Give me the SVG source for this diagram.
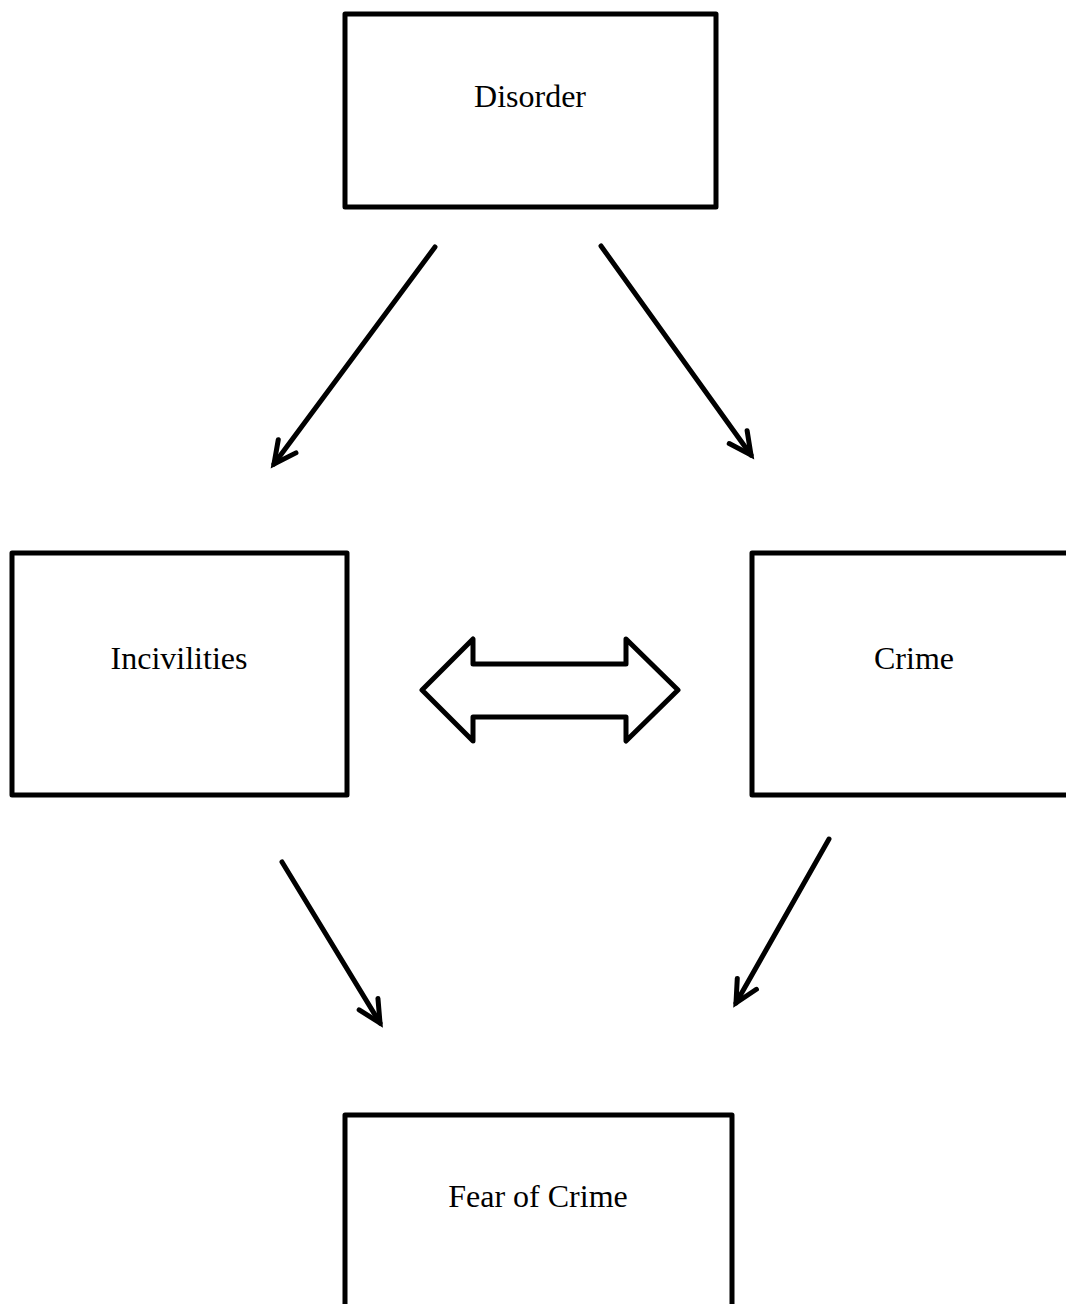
<svg xmlns="http://www.w3.org/2000/svg" width="1066" height="1304" viewBox="0 0 1066 1304">
<style>
.box{fill:#fff;stroke:#000;stroke-width:5;stroke-linejoin:round}
.lbl{font-family:"Liberation Serif","Times New Roman",serif;font-size:32px;fill:#000;text-anchor:middle}
.arr{fill:none;stroke:#000;stroke-width:5;stroke-linecap:round;marker-end:url(#head)}
</style>
<defs>
<marker id="head" markerUnits="userSpaceOnUse" markerWidth="40" markerHeight="40" viewBox="-30 -20 40 40" refX="0" refY="0" orient="auto" overflow="visible">
<path d="M -22 -11 L 0 0 L -22 11" fill="none" stroke="#000" stroke-width="5" stroke-linecap="round" stroke-linejoin="miter"/>
</marker>
</defs>
<rect width="1066" height="1304" fill="#fff"/>
<g id="disorder"><rect class="box" x="345" y="14" width="371" height="193"/><text class="lbl" x="530" y="107">Disorder</text></g>
<g id="incivilities"><rect class="box" x="12" y="553" width="335" height="242"/><text class="lbl" x="179" y="669">Incivilities</text></g>
<g id="crime"><rect class="box" x="752" y="553" width="330" height="242"/><text class="lbl" x="914" y="669">Crime</text></g>
<g id="fear"><rect class="box" x="345" y="1115" width="387" height="220"/><text class="lbl" x="538" y="1207">Fear of Crime</text></g>
<g id="connectors">
<line class="arr" x1="435" y1="247" x2="274" y2="464"/>
<line class="arr" x1="601" y1="246" x2="751" y2="455"/>
<line class="arr" x1="282" y1="862" x2="380" y2="1023"/>
<line class="arr" x1="829" y1="839" x2="736" y2="1003"/>
<path d="M 422 690 L 473 639 L 473 664 L 626 664 L 626 639 L 678 690 L 626 741 L 626 717 L 473 717 L 473 741 Z" fill="#fff" stroke="#000" stroke-width="5" stroke-linejoin="round"/>
</g>
</svg>
